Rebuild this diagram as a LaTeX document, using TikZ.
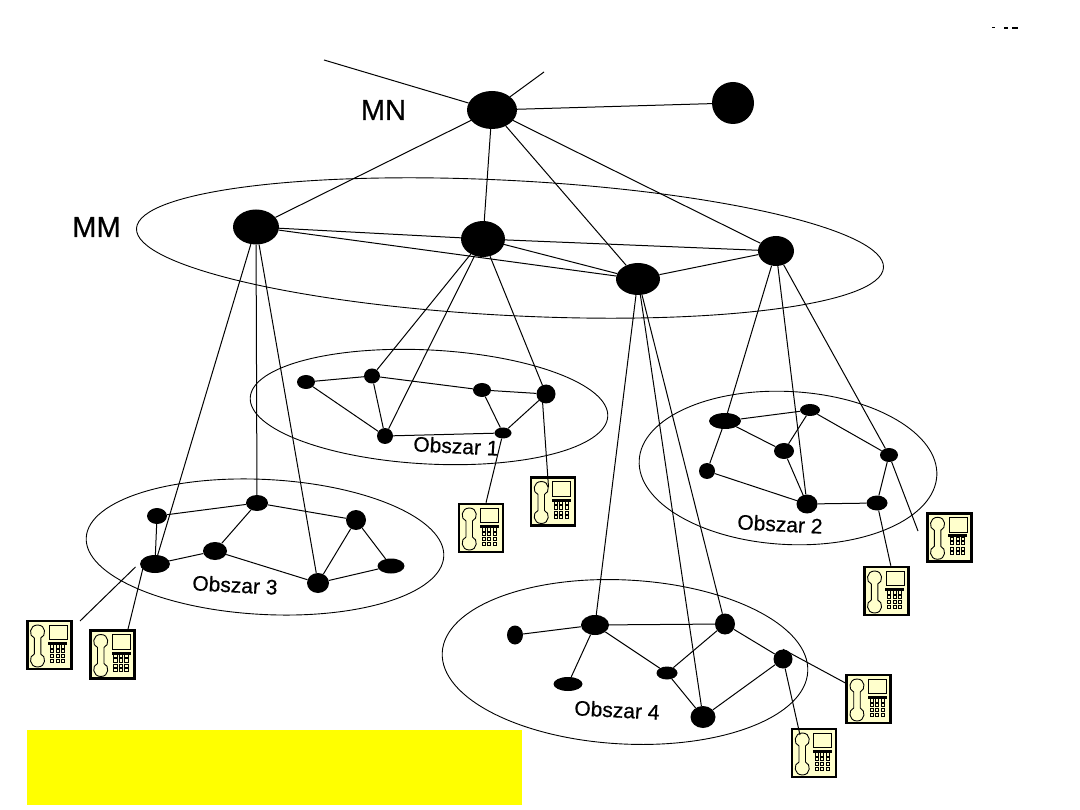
\documentclass[tikz,border=0pt]{standalone}
\usepackage{fontspec}
\setmainfont{Liberation Sans}[RawFeature={embolden=0.6}]
\usetikzlibrary{shapes.geometric}
\definecolor{phoneyellow}{HTML}{FFFFCC}
\definecolor{banneryellow}{HTML}{FFFF00}
\tikzset{
  dot/.style={ellipse,fill=black,inner sep=0pt},
  area/.style={ellipse,draw,line width=0.9pt,inner sep=0pt,rotate=-3},
  link/.style={line width=1pt},
  biglabel/.style={font=\fontsize{29}{29}\selectfont},
  arealabel/.style={font=\fontsize{21}{21}\selectfont,rotate=-3},
  phonebody/.style={draw,line width=2.6pt,fill=phoneyellow,minimum width=44pt,minimum height=48pt,inner sep=0pt}
}
\newcommand{\phonebox}[3]{
  \node[phonebody] (#1) at (#2,#3) {};
  \begin{scope}[shift={(#2,#3)},line width=0.9pt]
    \draw (-15,-7) .. controls (-21,-9) and (-20,-20) .. (-11.7,-20) .. controls (-3,-20) and (-3,-9) .. (-8.5,-7)
      -- (-8.5,9) .. controls (-3,11) and (-3,22) .. (-11.7,22) .. controls (-20,22) and (-21,11) .. (-15,9) -- cycle; % handset
    \draw (-0.3,-20) rectangle (17.7,-5.3); % screen
    \fill (-1,-3) rectangle (18,0);
    \foreach \kx in {3,8.3,14}
      \foreach \ky in {1.5,6,11.3,15.7}
        \draw[shift={(\kx,\ky)}] (-1.6,-1.6) rectangle (1.6,1.6);
  \end{scope}
}

\begin{document}
\begin{tikzpicture}[x=1pt,y=-1pt]
  \useasboundingbox (0,0) rectangle (1080,810);
  \fill[banneryellow] (27,729.5) rectangle (522,805);

  % the five rings
  \node[area,minimum width=748pt,minimum height=135pt] (ringMM) at (510,248) {};
  \node[area,minimum width=358pt,minimum height=114pt] (ring1) at (429,407) {};
  \node[area,minimum width=298pt,minimum height=153pt] (ring2) at (788,468) {};
  \node[area,minimum width=358pt,minimum height=135pt] (ring3) at (265,547) {};
  \node[area,minimum width=366pt,minimum height=164pt] (ring4) at (625,662) {};

  % name/x/y/width/height
  \foreach \nm/\x/\y/\w/\h in {mn/492/110/50/38,top/733/103/42/42,
      ma/256/227/46/35,mb/483/239/44/36,mc/638/279/44/32,md/776/251/36/30,
      a1/306/382/18/14,a2/372/376/16/15,a3/482/390/18/14,a4/546/394/19/19,a5/385/436/16/16,a6/503/433/17/11,
      b1/725/421/32/16,b2/810/410/20/12,b3/784/451/20/16,b4/889/455/18/14,b5/707/471/16/16,b6/807/504/21/19,b7/877/503/21/15,
      c1/157/516/20/16,c2/257/503/22/16,c3/356/520/20/20,c4/155/564/30/18,c5/215/551/24/18,c6/318/583/22/20,c7/391/566/27/15,
      d1/515/635/16/19,d2/595/625/28/20,d3/725/624/20/21,d4/783/659/19/19,d5/667/673/21/13,d6/568/684/29/14,d7/703/717/25/22}
    \node[dot,minimum width=\w pt,minimum height=\h pt] (\nm) at (\x,\y) {};

  \coordinate (upleft) at (324,60);
  \coordinate (upright) at (544,72);
  \foreach \from/\to in {mn/upleft,mn/upright,mn/top,mn/ma,mn/mb,mn/mc,mn/md,
      ma/mb,ma/mc,mb/mc,mb/md,mc/md,
      mb/a2,mb/a5,mb/a4,ma/c4,ma/c2,ma/c6,mc/d2,mc/d7,mc/d3,md/b1,md/b6,md/b4,
      a1/a2,a2/a3,a3/a4,a1/a5,a2/a5,a5/a6,a3/a6,a4/a6,
      b1/b2,b1/b3,b2/b3,b2/b4,b1/b5,b5/b6,b3/b6,b6/b7,b4/b7,
      c1/c2,c2/c3,c1/c4,c4/c5,c5/c2,c5/c6,c3/c6,c3/c7,c6/c7,
      d1/d2,d2/d3,d2/d6,d2/d5,d5/d3,d5/d7,d3/d4,d4/d7}
    \draw[link] (\from) -- (\to);

  \phonebox{ph1a}{481}{528}
  \phonebox{ph1b}{553}{501.5}
  \phonebox{ph2a}{949.3}{537.3}
  \phonebox{ph2b}{886.3}{591}
  \phonebox{ph3a}{49.3}{645}
  \phonebox{ph3b}{112.5}{654.5}
  \phonebox{ph4a}{868.7}{699}
  \phonebox{ph4b}{814}{753}

  % phone lines, some stop short or run into the box
  \coordinate (end1b) at (548.5,487);
  \coordinate (end2a) at (918,531);
  \coordinate (end3a) at (80,621);
  \coordinate (start3a) at (135.5,567);
  \coordinate (end4b) at (800,735);
  \draw[link] (a6) -- ([xshift=5pt]ph1a.north);
  \draw[link] ([xshift=-4pt]a4.center) -- (end1b);
  \draw[link] (b4) -- (end2a);
  \draw[link] (b7) -- ([xshift=4.5pt]ph2b.north);
  \draw[link] (start3a) -- (end3a);
  \draw[link] ([xshift=-11pt]c4.center) -- ([xshift=15.5pt]ph3b.north);
  \draw[link] (d4.north) -- ([yshift=16pt]ph4a.west);
  \draw[link] (d4) -- (end4b);

  \node[biglabel] (lblMN) at (383.5,110) {MN};
  \node[biglabel] (lblMM) at (96.5,227) {MM};
  \node[arealabel] (lbl1) at (456,446) {Obszar 1};
  \node[arealabel] (lbl2) at (780,524) {Obszar 2};
  \node[arealabel] (lbl3) at (235,585) {Obszar 3};
  \node[arealabel] (lbl4) at (617,710) {Obszar 4};

  % specks in the top corner
  \fill (992,27) rectangle (995,28.5);
  \fill (1004,27) rectangle (1008,29.5);
  \fill (1012,27) rectangle (1018,29.5);
\end{tikzpicture}
\end{document}
